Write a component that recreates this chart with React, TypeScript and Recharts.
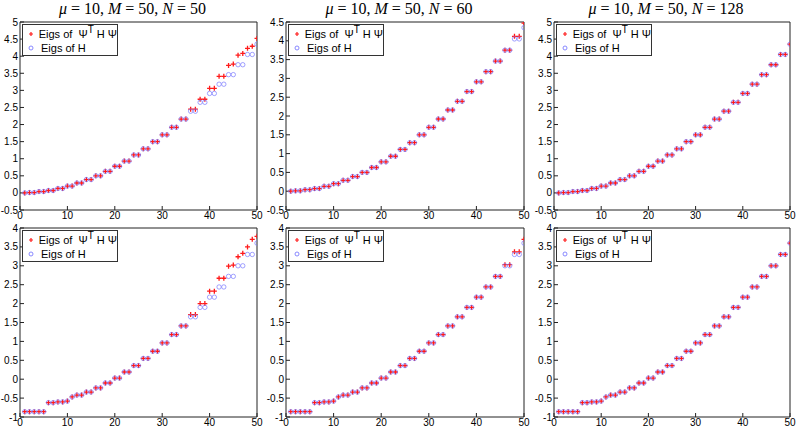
import { Legend, Scatter, ScatterChart, XAxis, YAxis } from "recharts";

const xIndex = [
  1, 2, 3, 4, 5, 6, 7, 8, 9, 10, 11, 12, 13, 14, 15, 16, 17, 18, 19, 20, 21, 22, 23, 24, 25,
  26, 27, 28, 29, 30, 31, 32, 33, 34, 35, 36, 37, 38, 39, 40, 41, 42, 43, 44, 45, 46, 47, 48, 49, 50
];
const xTicks = [0, 10, 20, 30, 40, 50];
const yTicksTall = [-0.5, 0, 0.5, 1, 1.5, 2, 2.5, 3, 3.5, 4, 4.5, 5];
const yTicksMid = [-0.5, 0, 0.5, 1, 1.5, 2, 2.5, 3, 3.5, 4, 4.5];
const yTicksLow = [-1, -0.5, 0, 0.5, 1, 1.5, 2, 2.5, 3, 3.5, 4];

const titleN = ["50", "60", "128"];

// eigenvalues of H, top row
const eigsHTop = [
  0, 0.01, 0.01, 0.04, 0.04, 0.07, 0.07, 0.13, 0.13, 0.2, 0.2, 0.29, 0.29, 0.39, 0.39, 0.5, 0.5,
  0.63, 0.63, 0.78, 0.78, 0.93, 0.93, 1.11, 1.11, 1.29, 1.29, 1.5, 1.5, 1.7, 1.7, 1.92, 1.92,
  2.16, 2.16, 2.39, 2.39, 2.65, 2.65, 2.91, 2.91, 3.18, 3.18, 3.46, 3.46, 3.75, 3.75, 4.05, 4.05, 4.35
];
const psiTopN50 = [
  0, 0.01, 0.01, 0.04, 0.04, 0.07, 0.07, 0.13, 0.13, 0.2, 0.2, 0.29, 0.29, 0.39, 0.39, 0.5, 0.5,
  0.63, 0.63, 0.78, 0.78, 0.93, 0.93, 1.11, 1.11, 1.29, 1.29, 1.5, 1.5, 1.7, 1.7, 1.92, 1.92,
  2.16, 2.16, 2.45, 2.45, 2.74, 2.74, 3.06, 3.06, 3.41, 3.41, 3.73, 3.77, 4.03, 4.08, 4.23, 4.29, 4.52
];
const psiTopN60 = [
  0, 0.01, 0.01, 0.04, 0.04, 0.07, 0.07, 0.13, 0.13, 0.2, 0.2, 0.29, 0.29, 0.39, 0.39, 0.5, 0.5,
  0.63, 0.63, 0.78, 0.78, 0.93, 0.93, 1.11, 1.11, 1.29, 1.29, 1.5, 1.5, 1.7, 1.7, 1.92, 1.92,
  2.16, 2.16, 2.39, 2.39, 2.65, 2.65, 2.91, 2.91, 3.18, 3.18, 3.46, 3.46, 3.75, 3.75, 4.12, 4.12, 4.47
];
const psiTopN128 = [
  0, 0.01, 0.01, 0.04, 0.04, 0.07, 0.07, 0.13, 0.13, 0.2, 0.2, 0.29, 0.29, 0.39, 0.39, 0.5, 0.5,
  0.63, 0.63, 0.78, 0.78, 0.93, 0.93, 1.11, 1.11, 1.29, 1.29, 1.5, 1.5, 1.7, 1.7, 1.92, 1.92,
  2.16, 2.16, 2.39, 2.39, 2.65, 2.65, 2.91, 2.91, 3.18, 3.18, 3.46, 3.46, 3.75, 3.75, 4.05, 4.05, 4.35
];

// bottom row
const eigsHBottom = [
  -0.86, -0.86, -0.86, -0.86, -0.86, -0.62, -0.62, -0.6, -0.6, -0.58, -0.47, -0.42, -0.42, -0.34,
  -0.34, -0.23, -0.23, -0.1, -0.1, 0.03, 0.03, 0.19, 0.19, 0.36, 0.36, 0.55, 0.55, 0.74, 0.74,
  0.96, 0.96, 1.18, 1.18, 1.41, 1.41, 1.65, 1.65, 1.9, 1.9, 2.17, 2.17, 2.44, 2.44, 2.72, 2.72,
  3.0, 3.0, 3.3, 3.3, 3.6
];
const psiBottomN50 = [
  -0.86, -0.86, -0.86, -0.86, -0.86, -0.62, -0.62, -0.6, -0.6, -0.58, -0.47, -0.42, -0.42, -0.34,
  -0.34, -0.23, -0.23, -0.1, -0.1, 0.03, 0.03, 0.19, 0.19, 0.36, 0.36, 0.55, 0.55, 0.74, 0.74,
  0.96, 0.96, 1.18, 1.18, 1.41, 1.41, 1.71, 1.71, 2.0, 2.0, 2.33, 2.33, 2.67, 2.67, 2.99, 3.02,
  3.24, 3.33, 3.5, 3.7, 3.78
];
const psiBottomN60 = [
  -0.86, -0.86, -0.86, -0.86, -0.86, -0.62, -0.62, -0.6, -0.6, -0.58, -0.47, -0.42, -0.42, -0.34,
  -0.34, -0.23, -0.23, -0.1, -0.1, 0.03, 0.03, 0.19, 0.19, 0.36, 0.36, 0.55, 0.55, 0.74, 0.74,
  0.96, 0.96, 1.18, 1.18, 1.41, 1.41, 1.65, 1.65, 1.9, 1.9, 2.17, 2.17, 2.44, 2.44, 2.72, 2.72,
  3.03, 3.03, 3.37, 3.37, 3.7
];
const psiBottomN128 = [
  -0.86, -0.86, -0.86, -0.86, -0.86, -0.62, -0.62, -0.6, -0.6, -0.58, -0.47, -0.42, -0.42, -0.34,
  -0.34, -0.23, -0.23, -0.1, -0.1, 0.03, 0.03, 0.19, 0.19, 0.36, 0.36, 0.55, 0.55, 0.74, 0.74,
  0.96, 0.96, 1.18, 1.18, 1.41, 1.41, 1.65, 1.65, 1.9, 1.9, 2.17, 2.17, 2.44, 2.44, 2.72, 2.72,
  3.0, 3.0, 3.3, 3.3, 3.6
];

const RED = "#ff1a1a";
const BLUE = "#7c7cff";
const AXIS_W = 24;
const PAD_T = 6;
const PAD_R = 8;
const XAXIS_H = 14;
const tickStyle = { fontSize: 10, fill: "#000", fontFamily: "Liberation Sans, Arial, sans-serif" };

function PlusMark(props: any) {
  const { cx, cy } = props;
  if (cx == null || cy == null) return null;
  return (
    <path
      d={`M${cx - 2.5},${cy}H${cx + 2.5}M${cx},${cy - 2.5}V${cy + 2.5}`}
      stroke={RED}
      strokeWidth={1.3}
      fill="none"
    />
  );
}

function CircleMark(props: any) {
  const { cx, cy } = props;
  if (cx == null || cy == null) return null;
  return <circle cx={cx} cy={cy} r={2.2} fill="none" stroke={BLUE} strokeWidth={0.9} strokeOpacity={0.8} />;
}

function LegendBox() {
  return (
    <div
      style={{
        border: "1px solid #333",
        background: "#fff",
        width: 96,
        height: 32,
        boxSizing: "border-box",
        fontFamily: "Liberation Sans, Arial, sans-serif",
        fontSize: 11,
        color: "#000",
        lineHeight: "14px",
        paddingTop: 1
      }}
    >
      <div style={{ display: "flex", alignItems: "center", height: 15 }}>
        <svg width={18} height={14}>
          <path d="M6,7H10M8,5V9" stroke={RED} strokeWidth={1.2} />
        </svg>
        <span style={{ whiteSpace: "nowrap" }}>
          Eigs of&nbsp;&nbsp;Ψ<sup style={{ fontSize: 10, lineHeight: 0, verticalAlign: "5px" }}>T</sup>&nbsp;H Ψ
        </span>
      </div>
      <div style={{ display: "flex", alignItems: "center", height: 14 }}>
        <svg width={18} height={14}>
          <circle cx={8} cy={7} r={2} fill="none" stroke={BLUE} strokeWidth={0.9} />
        </svg>
        <span>Eigs of H</span>
      </div>
    </div>
  );
}

type PanelProps = {
  left: number;
  top: number;
  width: number;
  height: number;
  yDomain: [number, number];
  yTicks: number[];
  psi: number[];
  eigH: number[];
  n?: string;
};

function Panel({ left, top, width, height, yDomain, yTicks, psi, eigH, n }: PanelProps) {
  const psiData = xIndex.map((x, i) => ({ x, y: psi[i] }));
  const hData = xIndex.map((x, i) => ({ x, y: eigH[i] }));
  const chartLeft = left - AXIS_W;
  const chartTop = top - PAD_T - 1;
  return (
    <>
      {n && (
        <div
          style={{
            position: "absolute",
            left: left + width / 2 - 6 - 120,
            width: 240,
            top: 0,
            textAlign: "center",
            fontFamily: "Liberation Serif, DejaVu Serif, serif",
            fontSize: 16,
            lineHeight: "18px",
            whiteSpace: "nowrap"
          }}
        >
          <i>μ</i> = 10, <i>M</i> = 50, <i>N</i> = {n}
        </div>
      )}
      <div style={{ position: "absolute", left: chartLeft, top: chartTop }}>
        <ScatterChart
          width={AXIS_W + width + 1 + PAD_R}
          height={PAD_T + 1 + height + XAXIS_H}
          margin={{ top: PAD_T, right: PAD_R, bottom: 0, left: 0 }}
        >
          <XAxis
            xAxisId="b"
            type="number"
            dataKey="x"
            domain={[0, 50]}
            ticks={xTicks}
            allowDataOverflow
            interval={0}
            tickSize={-4}
            tickMargin={6}
            height={XAXIS_H}
            axisLine={{ stroke: "#222" }}
            tickLine={{ stroke: "#222" }}
            tick={tickStyle}
          />
          <XAxis
            xAxisId="t"
            orientation="top"
            type="number"
            domain={[0, 50]}
            ticks={xTicks}
            allowDataOverflow
            interval={0}
            tick={false}
            tickSize={-4}
            height={1}
            axisLine={{ stroke: "#222" }}
            tickLine={{ stroke: "#222" }}
          />
          <YAxis
            yAxisId="l"
            type="number"
            dataKey="y"
            domain={yDomain}
            ticks={yTicks}
            allowDataOverflow
            interval={0}
            tickSize={-4}
            tickMargin={6}
            width={AXIS_W}
            axisLine={{ stroke: "#222" }}
            tickLine={{ stroke: "#222" }}
            tick={tickStyle}
          />
          <YAxis
            yAxisId="r"
            orientation="right"
            type="number"
            domain={yDomain}
            ticks={yTicks}
            allowDataOverflow
            interval={0}
            tick={false}
            tickSize={-4}
            width={1}
            axisLine={{ stroke: "#222" }}
            tickLine={{ stroke: "#222" }}
          />
          <Scatter
            xAxisId="b"
            yAxisId="l"
            name="Eigs of Psi^T H Psi"
            data={psiData}
            shape={PlusMark}
            isAnimationActive={false}
          />
          <Scatter
            xAxisId="b"
            yAxisId="l"
            name="Eigs of H"
            data={hData}
            shape={CircleMark}
            isAnimationActive={false}
          />
          <Legend
            layout="horizontal"
            verticalAlign="middle"
            align="center"
            content={() => <LegendBox />}
            wrapperStyle={{ left: AXIS_W + 2, top: PAD_T + 1 + 2, width: "auto", height: "auto" }}
          />
        </ScatterChart>
      </div>
    </>
  );
}

export default function App() {
  return (
    <div style={{ position: "absolute", left: 0, top: 0, width: 797, height: 427, background: "#fff" }}>
      <Panel left={20} top={22} width={237} height={188} yDomain={[-0.5, 5]} yTicks={yTicksTall} psi={psiTopN50} eigH={eigsHTop} n={titleN[0]} />
      <Panel left={286} top={22} width={238} height={188} yDomain={[-0.5, 4.5]} yTicks={yTicksMid} psi={psiTopN60} eigH={eigsHTop} n={titleN[1]} />
      <Panel left={554} top={22} width={236} height={188} yDomain={[-0.5, 5]} yTicks={yTicksTall} psi={psiTopN128} eigH={eigsHTop} n={titleN[2]} />
      <Panel left={20} top={228} width={237} height={189} yDomain={[-1, 4]} yTicks={yTicksLow} psi={psiBottomN50} eigH={eigsHBottom} />
      <Panel left={286} top={228} width={238} height={189} yDomain={[-1, 4]} yTicks={yTicksLow} psi={psiBottomN60} eigH={eigsHBottom} />
      <Panel left={554} top={228} width={236} height={189} yDomain={[-1, 4]} yTicks={yTicksLow} psi={psiBottomN128} eigH={eigsHBottom} />
    </div>
  );
}
